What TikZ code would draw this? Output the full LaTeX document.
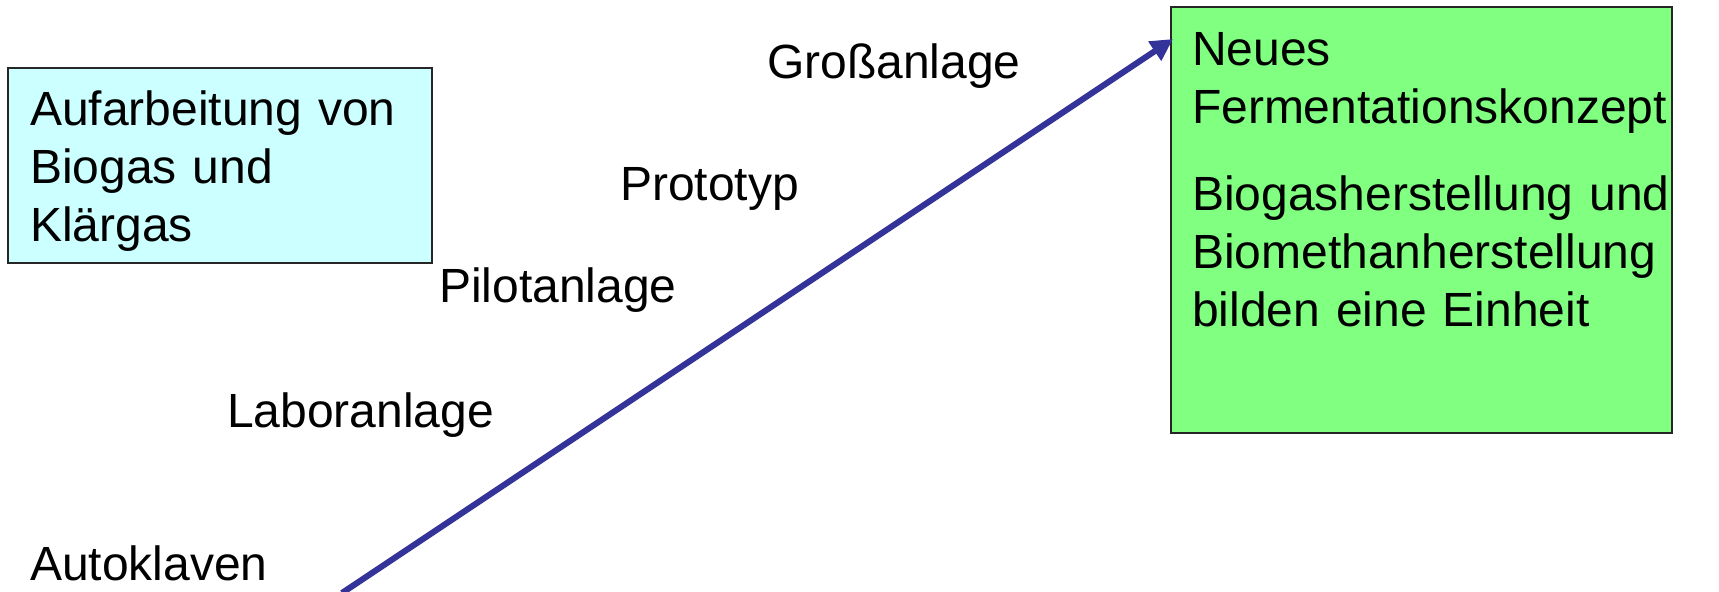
\documentclass[tikz,border=0pt]{standalone}
\usepackage{fontspec}
\setmainfont{Liberation Sans}
\usetikzlibrary{arrows.meta}
\definecolor{boxcyan}{RGB}{204,255,255}
\definecolor{boxgreen}{RGB}{128,255,128}
\definecolor{arrowblue}{RGB}{51,51,153}
\begin{document}
\begin{tikzpicture}[x=0.5pt,y=-0.5pt,
  every node/.style={font=\fontsize{24}{29}\selectfont, inner sep=0pt, outer sep=0pt},
  label/.style={anchor=base west},
  para/.style={anchor=base west, align=left, text width=#1},
  panel/.style={draw=black!85, line width=0.8pt, anchor=north west},
  progress/.style={draw=arrowblue, line width=3pt, -{Triangle[length=11pt,width=11pt]}}]
\useasboundingbox (0,0) rectangle (1719,591);

% the two boxes
\node[panel, fill=boxcyan, minimum width=212pt, minimum height=97.5pt] (proc) at (8,68) {};
\node[panel, fill=boxgreen, minimum width=250.5pt, minimum height=213pt] (ferm) at (1171,7) {};

% box texts
\node[para=200pt] (proctext) at (30,125) {Aufarbeitung von\\Biogas und\\Klärgas};
\node[para=240pt] (fermtext) at (1192,65) {Neues\\Fermentationskonzept\\[14.5pt]Biogasherstellung und\\Biomethanherstellung\\bilden eine Einheit};

% development stages
\node[label] (auto) at (30,580) {Autoklaven};
\node[label] (labor) at (227,427) {Laboranlage};
\node[label] (pilot) at (439,302) {Pilotanlage};
\node[label] (proto) at (620,200) {Prototyp};
\node[label] (gross) at (767,78) {Großanlage};

% scale-up arrow
\coordinate (start) at (342,593);
\coordinate (tip) at (1173,39);
\draw[progress] (start) -- (tip);
\end{tikzpicture}
\end{document}
